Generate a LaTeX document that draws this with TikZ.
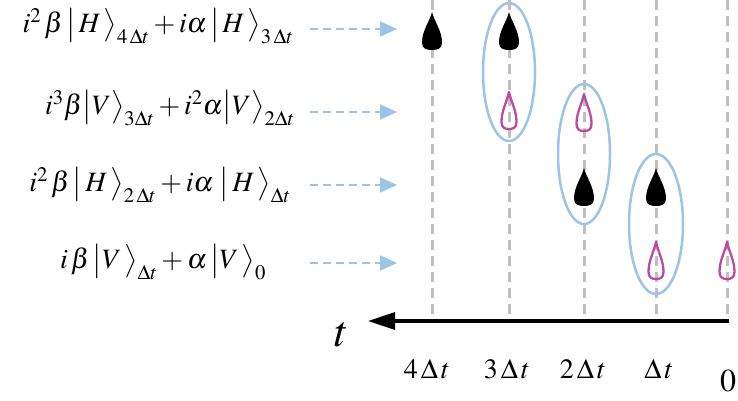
\documentclass[tikz,border=0pt]{standalone}
\usepackage{mathptmx}
\usepackage{tikz}
\usetikzlibrary{arrows.meta}

\definecolor{lblue}{RGB}{157,195,230}
\definecolor{drpink}{RGB}{185,75,160}
\definecolor{lgray}{RGB}{191,191,191}

\newcommand{\tdrop}[5]{%
  \path[#5, shift={(#1,#2)}] (0,0)
    .. controls (0.12*#3,0.25*#4) and (0.5*#3,0.5*#4) .. (0.5*#3,0.8*#4)
    .. controls (0.5*#3,0.96*#4) and (0.3*#3,#4) .. (0,#4)
    .. controls (-0.3*#3,#4) and (-0.5*#3,0.96*#4) .. (-0.5*#3,0.8*#4)
    .. controls (-0.5*#3,0.5*#4) and (-0.12*#3,0.25*#4) .. cycle;}

\begin{document}
\begin{tikzpicture}[x=1pt, y=-1pt,
    grid/.style={lgray, line width=3pt, dash pattern=on 10pt off 6pt},
    arr/.style={lblue, line width=2pt, dash pattern=on 8pt off 5pt,
      -{Triangle[length=17pt, width=15pt]}},
    formula/.style={font=\fontsize{28}{32}\selectfont, inner sep=0pt},
    tick/.style={font=\fontsize{28}{32}\selectfont, inner sep=0pt}]
    \useasboundingbox (0,0) rectangle (738,401);

    \foreach \x in {432,509,584,656,727}
      \draw[grid] (\x,0) -- (\x,319);

    \coordinate (o) at (729,321);
    \coordinate (tip) at (368,321);
    \draw[line width=3.2pt, -{Triangle[length=27pt, width=17pt]}] (o) -- (tip);
    \node[font=\fontsize{44}{48}\selectfont, inner sep=0pt] (t) at (342,335) {$t$};

    \node[tick] (t4) at (427,369) {$4\mkern2mu\Delta\mkern2mu t$};
    \node[tick] (t3) at (507,369) {$3\mkern2mu\Delta\mkern2mu t$};
    \node[tick] (t2) at (583,369) {$2\mkern2mu\Delta\mkern2mu t$};
    \node[tick] (t1) at (659,369) {$\Delta\mkern2mu t$};
    \node[font=\fontsize{32}{36}\selectfont, inner sep=0pt] (t0) at (728,381) {$0$};

    \draw[lblue, line width=2.5pt] (509,72) ellipse [x radius=26pt, y radius=69pt];
    \draw[lblue, line width=2.5pt] (584,154) ellipse [x radius=26pt, y radius=70pt];
    \draw[lblue, line width=2.5pt] (656,224) ellipse [x radius=27pt, y radius=70pt];

    \foreach \x/\y in {432/12, 509/12, 584/168, 656/168}
      \tdrop{\x}{\y}{20}{38}{fill=black};
    \foreach \x/\y in {509/92, 584/94, 656/242, 727/242}
      \tdrop{\x}{\y}{15}{37}{draw=drpink, line width=2.3pt, line join=round};

    \node[formula] (f1) at (158,26)
      {$i^{2}\,\beta\,\big|\,H\,\big\rangle_{4\,\Delta t}+i\alpha\,\big|\,H\,\big\rangle_{3\,\Delta t}$};
    \node[formula] (f2) at (170,108)
      {$i^{3}\beta\big|V\big\rangle_{3\Delta t}+i^{2}\alpha\big|V\big\rangle_{2\Delta t}$};
    \node[formula] (f3) at (160,185)
      {$i^{2}\,\beta\,\big|\,H\,\big\rangle_{2\,\Delta t}+i\alpha\;\big|\,H\,\big\rangle_{\Delta t}$};
    \node[formula] (f4) at (163,262)
      {$i\,\beta\,\big|V\,\big\rangle_{\Delta t}+\alpha\,\big|V\,\big\rangle_{0}$};

    \foreach \y [count=\i] in {29,112,185,263} {
      \coordinate (s\i) at (310,\y);
      \coordinate (e\i) at (397,\y);
      \draw[arr] (s\i) -- (e\i);
    }
\end{tikzpicture}
\end{document}
